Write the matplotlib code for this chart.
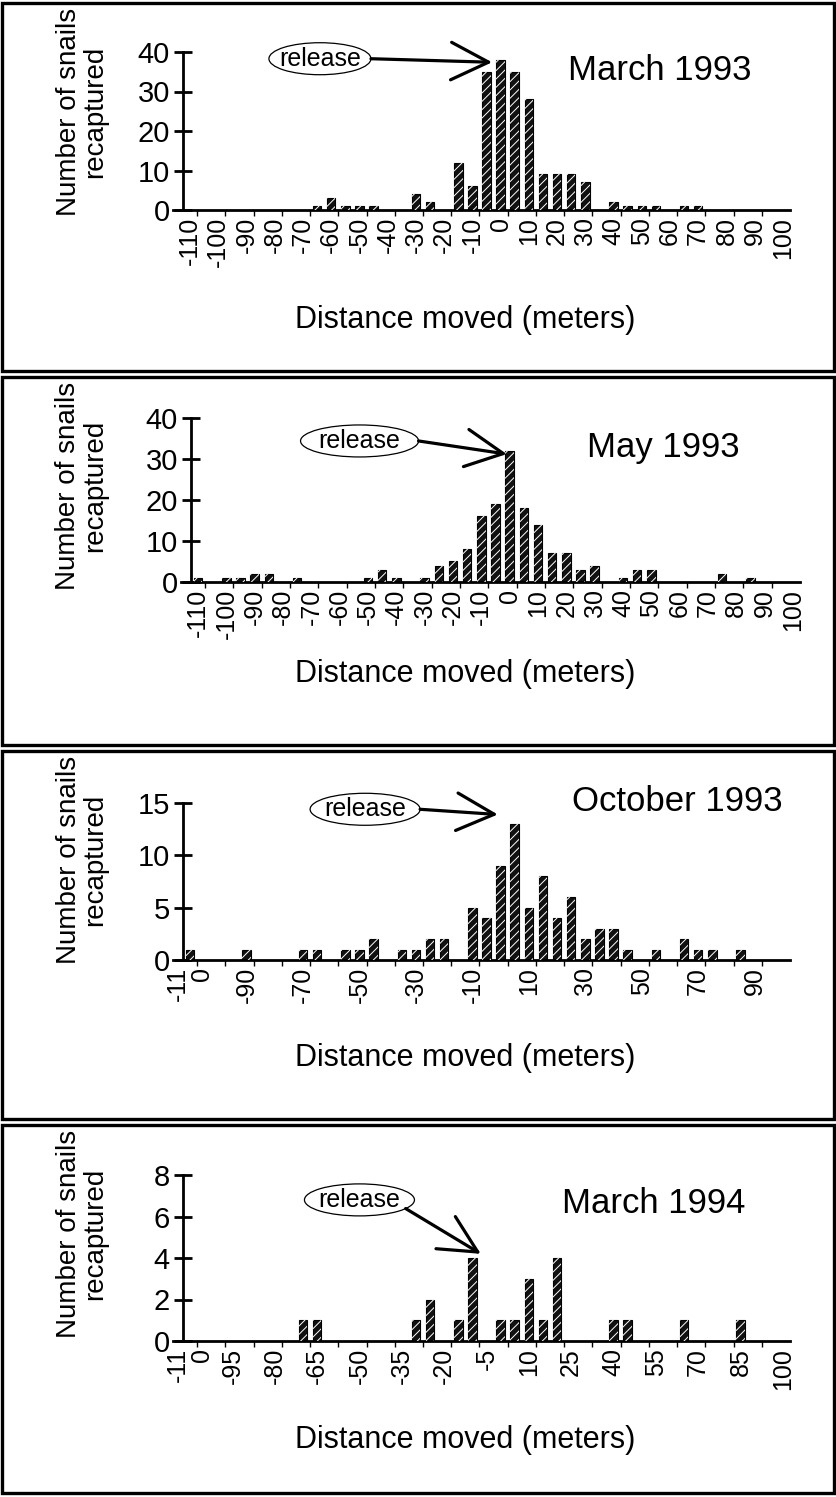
import matplotlib
matplotlib.use("Agg")
import matplotlib.pyplot as plt
from matplotlib.patches import Rectangle, Ellipse

plt.rcParams['font.family'] = ['Liberation Sans', 'DejaVu Sans']
plt.rcParams['hatch.linewidth'] = 0.7

# ---------------- data ----------------
titles = ["March 1993", "May 1993", "October 1993", "March 1994"]

mar93_x = [-65, -60, -55, -50, -45, -30, -25, -15, -10, -5, 0, 5, 10, 15, 20, 25, 30, 40, 45, 50, 55, 65, 70]
mar93_n = [1, 3, 1, 1, 1, 4, 2, 12, 6, 35, 38, 35, 28, 9, 9, 9, 7, 2, 1, 1, 1, 1, 1]

may93_x = [-110, -100, -95, -90, -85, -75, -50, -45, -40, -30, -25, -20, -15, -10, -5, 0, 5, 10, 15, 20, 25, 30, 40, 45, 50, 75, 85]
may93_n = [1, 1, 1, 2, 2, 1, 1, 3, 1, 1, 4, 5, 8, 16, 19, 32, 18, 14, 7, 7, 3, 4, 1, 3, 3, 2, 1]

oct93_x = [-110, -90, -70, -65, -55, -50, -45, -35, -30, -25, -20, -10, -5, 0, 5, 10, 15, 20, 25, 30, 35, 40, 45, 55, 65, 70, 75, 85]
oct93_n = [1, 1, 1, 1, 1, 1, 2, 1, 1, 2, 2, 5, 4, 9, 13, 5, 8, 4, 6, 2, 3, 3, 1, 1, 2, 1, 1, 1]

mar94_x = [-70, -65, -30, -25, -15, -10, 0, 5, 10, 15, 20, 40, 45, 65, 85]
mar94_n = [1, 1, 1, 2, 1, 4, 1, 1, 3, 1, 4, 1, 1, 1, 1]

# tick labels
lab1_pos = list(range(-110, 101, 10))
lab1_txt = [str(v) for v in lab1_pos]
lab3_pos = list(range(-110, 101, 20))
lab3_txt = ["-11\n0"] + [str(v) for v in lab3_pos[1:]]
lab4_pos = list(range(-110, 101, 15))
lab4_txt = ["-11\n0"] + [str(v) for v in lab4_pos[1:]]

yticks = [[0, 10, 20, 30, 40], [0, 10, 20, 30, 40], [0, 5, 10, 15], [0, 2, 4, 6, 8]]

# release annotation: ellipse centre (data), arrow tip (data)
release_ctr = [(-64, 38.3), (-53, 34.4), (-48, 14.4), (-50, 6.8)]
release_tip = [(-3, 37.4), (-1, 31.2), (-1, 13.9), (-7, 4.2)]
title_pos = [(0.786, 0.88), (0.775, 0.82), (0.814, 1.01), (0.776, 0.83)]

datasets = [(mar93_x, mar93_n), (may93_x, may93_n), (oct93_x, oct93_n), (mar94_x, mar94_n)]
labels = [(lab1_pos, lab1_txt), (lab1_pos, lab1_txt), (lab3_pos, lab3_txt), (lab4_pos, lab4_txt)]

W, H = 836, 1497
PH = 374.0
fig = plt.figure(figsize=(W / 100, H / 100), dpi=100)

ax_left = [183, 191, 183, 183]
ax_right = [790, 800, 790, 790]
ax_top = [52, 44, 55, 53]
ax_base = [210, 208, 212, 219]
dm_y = [320, 300, 310, 318]
ell_w_px = [102, 118, 110, 110]
ell_h_px = 32

for i in range(4):
    T = i * PH
    fig.patches.append(Rectangle((2 / W, 1 - (T + PH - 3) / H), (W - 4) / W, (PH - 6) / H,
                                 transform=fig.transFigure, fill=False, lw=2.4, ec='black'))
    top_y = T + ax_top[i]
    base_y = T + ax_base[i]
    wpx = ax_right[i] - ax_left[i]
    hpx = base_y - top_y
    ax = fig.add_axes([ax_left[i] / W, 1 - base_y / H, wpx / W, hpx / H])
    x, n = datasets[i]
    ax.bar(x, n, width=3.0, color='#111111', edgecolor='black', linewidth=0.8, zorder=2)
    ax.bar(x, n, width=3.0, fill=False, hatch='////', edgecolor='white', linewidth=0, zorder=3)
    xmin, xmax = -112.5, 102.5
    ymax = yticks[i][-1]
    ax.set_xlim(xmin, xmax)
    ax.set_ylim(0, ymax)
    ax.set_yticks(yticks[i])
    ax.tick_params(axis='y', direction='inout', length=13, width=2.0, labelsize=21, pad=3)
    pos, txt = labels[i]
    ax.set_xticks(pos)
    ax.set_xticklabels(txt, rotation=90, fontsize=18)
    for lbl in ax.get_xticklabels():
        lbl.set_multialignment('right')
        lbl.set_linespacing(1.0)
    ax.tick_params(axis='x', length=0, pad=5)
    ax.set_xticks([v + 2.5 for v in range(-110, 100, 10)], minor=True)
    ax.tick_params(axis='x', which='minor', direction='out', length=4, width=1)
    for s in ['top', 'right']:
        ax.spines[s].set_visible(False)
    ax.spines['left'].set_linewidth(2.0)
    ax.spines['bottom'].set_linewidth(2.0)
    ax.spines['bottom'].set_bounds(-116, 102.5)
    ax.patch.set_alpha(0)

    ax.set_ylabel("Number of snails\nrecaptured", fontsize=20, linespacing=1.05)
    ax.yaxis.label.set_va('center')
    ax.yaxis.set_label_coords((82 - ax_left[i]) / wpx, (ax_base[i] - 112) / hpx)
    ax.text(*title_pos[i], titles[i], transform=ax.transAxes, fontsize=25, ha='center', va='center')

    # release ellipse + arrow
    cx, cy = release_ctr[i]
    ew = ell_w_px[i] * (xmax - xmin) / wpx
    eh = ell_h_px * ymax / hpx
    ax.add_patch(Ellipse((cx, cy), ew, eh, fill=False, ec='black', lw=0.9, clip_on=False, zorder=4))
    ax.text(cx, cy, "release", fontsize=18, ha='center', va='center', zorder=5)
    if i < 3:
        start = (cx + ew / 2, cy)
    else:
        start = (cx + ew * 0.42, cy - eh * 0.27)
    ax.annotate("", xy=release_tip[i], xytext=start,
                arrowprops=dict(arrowstyle='->,head_length=0.9,head_width=0.45', lw=2.3,
                                mutation_scale=30, color='black', shrinkA=0, shrinkB=0),
                annotation_clip=False)

    fig.text(465 / W, 1 - (T + dm_y[i]) / H, "Distance moved (meters)", fontsize=22, ha='center', va='center')

fig.savefig("out.png", dpi=100)
